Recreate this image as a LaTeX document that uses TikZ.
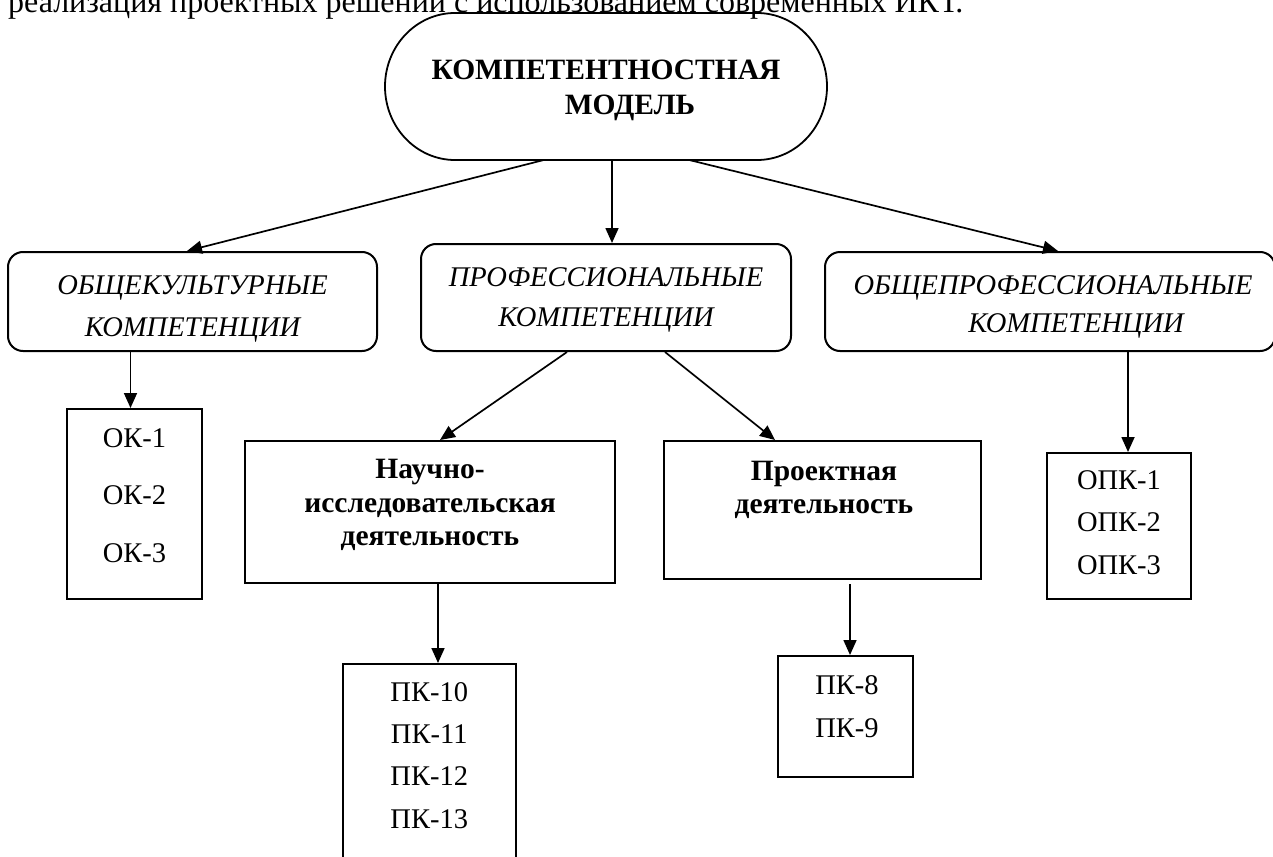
\documentclass[tikz,border=0pt]{standalone}
\usepackage{fontspec}
\setmainfont{Liberation Serif}
\usetikzlibrary{arrows.meta}
\tikzset{
  box/.style={draw, line width=2pt, inner sep=0pt},
  rbox/.style={box, rounded corners=15pt},
  txt/.style={align=center, inner sep=0pt},
  arr/.style={line width=1.7pt, -{Triangle[length=15pt,width=13pt]}},
}
\newcommand{\fs}[1]{\fontsize{28.5}{#1}\selectfont}
\newcommand{\fb}[1]{\fontsize{29.5}{#1}\selectfont\bfseries}
\begin{document}
\begin{tikzpicture}[x=1pt,y=1pt]
\useasboundingbox (0,0) rectangle (1273,-856);
\clip (0,0) rectangle (1273,-856);
\fill[white] (0,0) rectangle (1273,-856);

% intro line (cut at top)
\node[txt, anchor=base west, font=\fontsize{32}{38}\selectfont] (intro) at (8,-13)
  {реализация проектных решений с использованием современных ИКТ.};

% top model shape
\node[minimum width=442pt, minimum height=147pt, inner sep=0pt] (model) at (606,-86.5) {};
\draw[line width=1.8pt] (455,-13) -- (757,-13)
  arc[start angle=90, end angle=-90, x radius=70, y radius=73.5]
  -- (455,-160)
  arc[start angle=270, end angle=90, x radius=70, y radius=73.5] -- cycle;
\node[txt, font=\fb{35}] (model-t) at ([yshift=-3.5pt]model.center)
  {КОМПЕТЕНТНОСТНАЯ\\\hspace*{48pt}МОДЕЛЬ};

% second level
\node[rbox, minimum width=369pt, minimum height=99pt] (kult) at (192.5,-301.5) {};
\node[txt, font={\fs{42}\itshape}] (kult-t) at ([yshift=-7.2pt]kult.center)
  {ОБЩЕКУЛЬТУРНЫЕ\\КОМПЕТЕНЦИИ};

\node[rbox, minimum width=370pt, minimum height=107pt] (prof) at (606,-297.5) {};
\node[txt, font={\fs{40}\itshape}] (prof-t) at ([yshift=-2.2pt]prof.center)
  {ПРОФЕССИОНАЛЬНЫЕ\\КОМПЕТЕНЦИИ};

\node[rbox, minimum width=450pt, minimum height=99pt] (obprof) at (1050,-301.5) {};
\node[txt, font={\fs{38}\itshape}] (obprof-t) at ([xshift=3pt,yshift=-5.2pt]obprof.center)
  {ОБЩЕПРОФЕССИОНАЛЬНЫЕ\\\hspace*{46pt}КОМПЕТЕНЦИИ};

% third level
\node[box, minimum width=135pt, minimum height=190pt] (ok) at (134.5,-504) {};
\node[txt, font=\fs{57.5}] (ok-t) at ([yshift=8.5pt]ok.center) {ОК-1\\ОК-2\\ОК-3};

\node[box, minimum width=370pt, minimum height=142pt] (nauch) at (430,-512) {};
\node[txt, font=\fb{33.5}] (nauch-t) at ([yshift=7pt]nauch.center)
  {Научно-\\исследовательская\\деятельность};

\node[box, minimum width=317pt, minimum height=138pt] (proj) at (822.5,-510) {};
\node[txt, font=\fb{33}] (proj-t) at ([xshift=1.5pt,yshift=20pt]proj.center)
  {Проектная\\деятельность};

\node[box, minimum width=144pt, minimum height=146pt] (opk) at (1119,-526) {};
\node[txt, font=\fs{42.5}] (opk-t) at ([yshift=3.5pt]opk.center) {ОПК-1\\ОПК-2\\ОПК-3};

% fourth level
\node[box, minimum width=173.5pt, minimum height=236pt] (pk10) at (429.25,-782) {};
\node[txt, font=\fs{42.3}] (pk10-t) at ([yshift=26.5pt]pk10.center) {ПК-10\\ПК-11\\ПК-12\\ПК-13};

\node[box, minimum width=135pt, minimum height=121pt] (pk8) at (845.5,-716.5) {};
\node[txt, font=\fs{43}] (pk8-t) at ([xshift=1.5pt,yshift=10pt]pk8.center) {ПК-8\\ПК-9};

% connectors
\draw[arr] ([xshift=-63pt]model.south) -- ([xshift=-5.5pt]kult.north);
\draw[arr] ([xshift=6pt]model.south) -- ([xshift=6pt]prof.north);
\draw[arr] ([xshift=84pt]model.south) -- ([xshift=8pt]obprof.north);
\draw[arr] ([xshift=-62pt]kult.south) -- ([xshift=-4pt]ok.north);
\draw[arr] ([xshift=-39pt]prof.south) -- ([xshift=10pt]nauch.north);
\draw[arr] ([xshift=59pt]prof.south) -- ([xshift=-47.5pt]proj.north);
\draw[arr] ([xshift=78pt]obprof.south) -- ([xshift=9pt]opk.north);
\draw[arr] ([xshift=8pt]nauch.south) -- ([xshift=8.75pt]pk10.north);
\draw[arr] ([xshift=27.5pt,yshift=-4pt]proj.south) -- ([xshift=4.5pt]pk8.north);
\end{tikzpicture}
\end{document}
